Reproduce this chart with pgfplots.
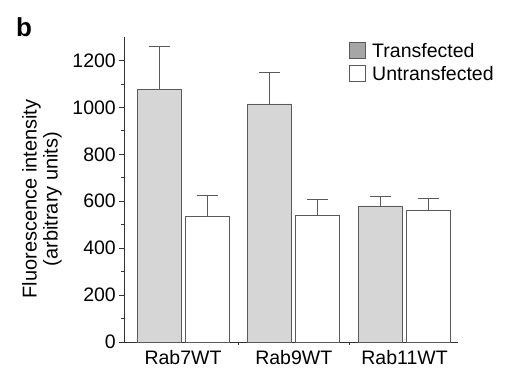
\documentclass[border=0pt]{standalone}
\usepackage{pgfplots}
\pgfplotsset{compat=1.18}
\usepackage{fontspec}
\setmainfont{Liberation Sans}
\definecolor{barfill}{HTML}{D6D6D6}
\definecolor{legfill}{HTML}{A6A6A6}
\definecolor{edge}{HTML}{5A5A5A}
\begin{document}
\begin{tikzpicture}
\path[use as bounding box] (-124bp,-27bp) rectangle (385bp,342bp);
\node[font=\fontsize{26bp}{30bp}\selectfont\bfseries] at (-100bp,315bp) {b};
\begin{axis}[
  at={(0,0)}, anchor=south west,
  scale only axis,
  width=334bp, height=305bp,
  xmin=-0.533, xmax=2.483,
  ymin=0, ymax=1300,
  axis lines=left,
  axis line style={-, draw=black!80, line width=0.8bp},
  ytick={0,200,...,1200},
  minor ytick={100,300,...,1100},
  xtick={0,1,2},
  xticklabels={Rab7WT,Rab9WT,Rab11WT},
  minor xtick={0.5,1.5},
  major x tick style={draw=none},
  tick align=outside,
  major tick length=5bp,
  minor tick length=3bp,
  tick style={draw=black!80, line width=0.7bp},
  ticklabel style={font=\fontsize{19.5bp}{22bp}\selectfont},
  /pgf/number format/assume math mode=true,
  /pgf/number format/1000 sep={},
  yticklabel style={inner sep=1bp, xshift=-2bp},
  xticklabel style={inner sep=2bp, yshift=-1bp},
  ylabel={Fluorescence intensity\\(arbitrary units)},
  every axis y label/.style={at={(-82bp,143bp)}, rotate=90, anchor=center,
    align=center, font=\fontsize{20bp}{21bp}\selectfont},
  legend style={draw=none, fill=none, at={(0.672,0.985)}, anchor=north west,
    font=\fontsize{19.5bp}{22bp}\selectfont, row sep=3bp, inner sep=0pt,
    /tikz/every odd column/.append style={column sep=5bp}},
  legend cell align=left,
  clip=false,
]
\addlegendimage{legend image code/.code={\draw[draw=edge, fill=legfill, line width=0.6bp] (0bp,-7bp) rectangle (16bp,9bp);}}
\addlegendentry{Transfected}
\addlegendimage{legend image code/.code={\draw[draw=edge, fill=white, line width=0.6bp] (0bp,-7bp) rectangle (16bp,9bp);}}
\addlegendentry{Untransfected}

\addplot+[ybar, bar width=44bp, bar shift=0bp, draw=edge, fill=barfill, line width=0.7bp, mark=none, forget plot,
  error bars/.cd, y dir=plus, y explicit, error bar style={draw=edge, line width=0.8bp},
  error mark options={rotate=90, mark size=10.5bp, draw=edge, line width=0.8bp}]
  coordinates {(-0.2167,1077) +- (0,185) (0.7833,1015) +- (0,136) (1.7833,580) +- (0,40)};
\addplot+[ybar, bar width=44bp, bar shift=0bp, draw=edge, fill=white, line width=0.7bp, mark=none, forget plot,
  error bars/.cd, y dir=plus, y explicit, error bar style={draw=edge, line width=0.8bp},
  error mark options={rotate=90, mark size=10.5bp, draw=edge, line width=0.8bp}]
  coordinates {(0.2167,537) +- (0,88) (1.2167,538) +- (0,70) (2.2167,563) +- (0,51)};
\end{axis}
\end{tikzpicture}
\end{document}
